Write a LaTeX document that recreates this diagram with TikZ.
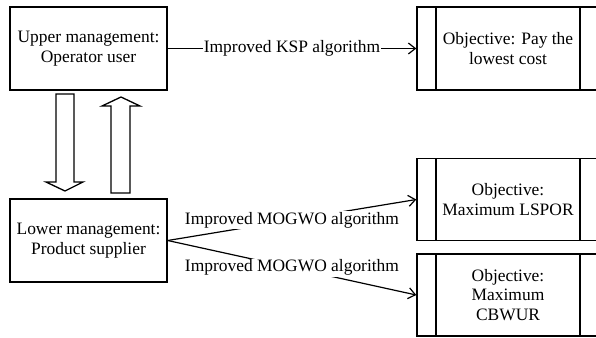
\documentclass[tikz,border=0pt]{standalone}
\usepackage{fontspec}
\setmainfont{Liberation Serif}
\usetikzlibrary{arrows.meta, calc}
\tikzset{
    >={Straight Barb[length=7bp, width=11bp]},
    level/.style={draw, line width=1.4bp, minimum width=157bp, minimum height=83bp,
        align=center, inner sep=0pt},
    objective/.style={draw, line width=1.4bp, minimum width=182bp, minimum height=#1,
        align=center, inner sep=0pt,
        path picture={
            \draw[line width=1.4bp] ([xshift=19bp]path picture bounding box.north west)
                -- ([xshift=19bp]path picture bounding box.south west);
            \draw[line width=1.4bp] ([xshift=-19bp]path picture bounding box.north east)
                -- ([xshift=-19bp]path picture bounding box.south east);
        }},
    objective/.default=82bp,
    flow/.style={->, line width=1.2bp},
    algo/.style={fill=white, inner sep=1bp},
    blockarrow/.style={draw, line width=1.3bp, line join=miter},
}

\begin{document}
\begin{tikzpicture}[x=1bp, y=-1bp, font=\fontsize{17.5}{20}\selectfont]
        \useasboundingbox (0,0) rectangle (596,337);
        \clip (0,0) rectangle (596,337);
        \node[level] (upper) at (88.5,48.5) {Upper management:\\Operator user};
        \node[level] (lower) at (88.5,240.5) {Lower management:\\Product supplier};
        \node[objective=83bp] (cost) at (508,48.5) {Objective: Pay the\\lowest cost};
        \node[objective] (lspor) at (508,199.5) {Objective:\\Maximum LSPOR};
        \node[objective] (cbwur) at (508,295) {Objective:\\Maximum\\CBWUR};
        % algorithms between the two levels and their objectives
        \draw[flow] (upper) -- (cost) node[algo, midway] {Improved KSP algorithm};
        \foreach \n in {lspor,cbwur}
            \draw[flow] (lower.east) -- (\n.west) node[algo, midway] {Improved MOGWO algorithm};
        % interaction between upper and lower level
        \draw[blockarrow] (56,94) -- (74,94) -- (74,182) -- (83,182) -- (65,191)
            -- (46,182) -- (56,182) -- cycle;
        \draw[blockarrow] (111,193) -- (130,193) -- (130,106) -- (140,106) -- (121,97)
            -- (102,106) -- (111,106) -- cycle;
    \end{tikzpicture}
\end{document}
